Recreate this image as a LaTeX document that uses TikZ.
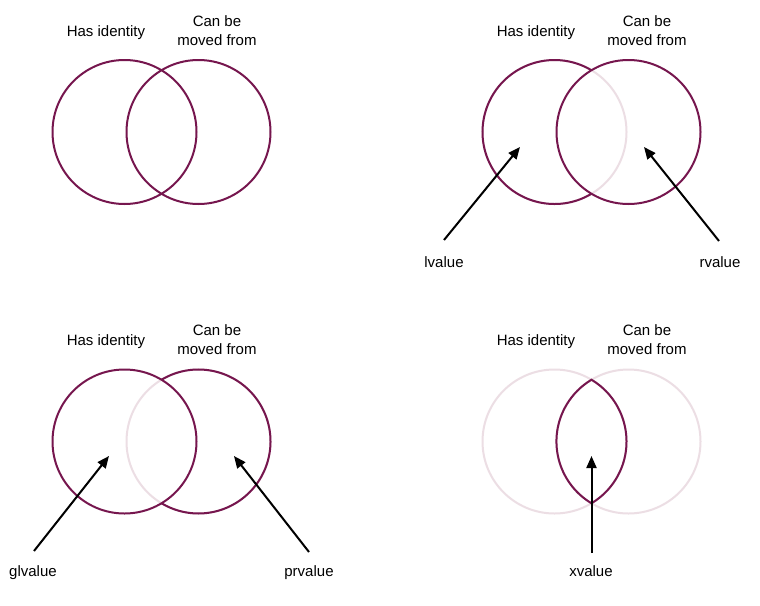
\documentclass[tikz,border=0pt]{standalone}
\usepackage{fontspec}
\setmainfont{Liberation Sans}
\usetikzlibrary{arrows.meta}
\definecolor{strong}{RGB}{118,22,78}
\definecolor{faded}{RGB}{236,222,228}
\begin{document}
\begin{tikzpicture}[x=1pt,y=-1pt,
  ring/.style={draw=strong,line width=2pt},
  fadering/.style={draw=faded,line width=2pt},
  txt/.style={inner sep=0pt,anchor=base,font=\fontsize{15}{18}\selectfont},
  pointer/.style={draw=black,line width=2pt,-{Triangle[length=12pt,width=10pt]}}]
\useasboundingbox[fill=white] (0,0) rectangle (760,605);
% ---------- panel 1 ----------
\draw[ring] (124.5,132) circle (72);
\draw[ring] (198.5,132) circle (72);
\node[txt] (hi1) at (106,36) {Has identity};
\node[txt] (cb1) at (217,26) {Can be};
\node[txt] (mf1) at (217,45) {moved from};
% ---------- panel 2 ----------
\draw[fadering] (554.5,132) circle (72);
\draw[ring] (554.5,132) ++(59.1:72) arc[start angle=59.1,end angle=300.9,radius=72];
\draw[ring] (628.5,132) circle (72);
\node[txt] (hi2) at (536,36) {Has identity};
\node[txt] (cb2) at (647,26) {Can be};
\node[txt] (mf2) at (647,45) {moved from};
\node[txt] (lv) at (444,267) {lvalue};
\node[txt] (rv) at (720,267) {rvalue};
\coordinate (lvs) at (444,240);
\coordinate (lvt) at (520,147);
\coordinate (rvs) at (719,241);
\coordinate (rvt) at (644,147);
\draw[pointer] (lvs) -- (lvt);
\draw[pointer] (rvs) -- (rvt);
% ---------- panel 3 ----------
\draw[fadering] (198.5,441.5) circle (72);
\draw[ring] (124.5,441.5) circle (72);
\draw[ring] (198.5,441.5) ++(-120.9:72) arc[start angle=-120.9,end angle=120.9,radius=72];
\node[txt] (hi3) at (106,345) {Has identity};
\node[txt] (cb3) at (217,335) {Can be};
\node[txt] (mf3) at (217,354) {moved from};
\node[txt] (glv) at (33,576) {glvalue};
\node[txt] (prv) at (309,576) {prvalue};
\coordinate (glvs) at (34,551);
\coordinate (glvt) at (109,456);
\coordinate (prvs) at (309,552);
\coordinate (prvt) at (234,456);
\draw[pointer] (glvs) -- (glvt);
\draw[pointer] (prvs) -- (prvt);
% ---------- panel 4 ----------
\draw[fadering] (554.5,441.5) circle (72);
\draw[fadering] (628.5,441.5) circle (72);
\draw[ring,line join=miter] (554.5,441.5) ++(-59.1:72) arc[start angle=-59.1,end angle=59.1,radius=72]
   arc[start angle=120.9,end angle=239.1,radius=72] -- cycle;
\node[txt] (hi4) at (536,345) {Has identity};
\node[txt] (cb4) at (647,335) {Can be};
\node[txt] (mf4) at (647,354) {moved from};
\node[txt] (xv) at (591,576) {xvalue};
\coordinate (xvs) at (591.5,553);
\coordinate (xvt) at (591.5,456);
\draw[pointer] (xvs) -- (xvt);
\end{tikzpicture}
\end{document}
